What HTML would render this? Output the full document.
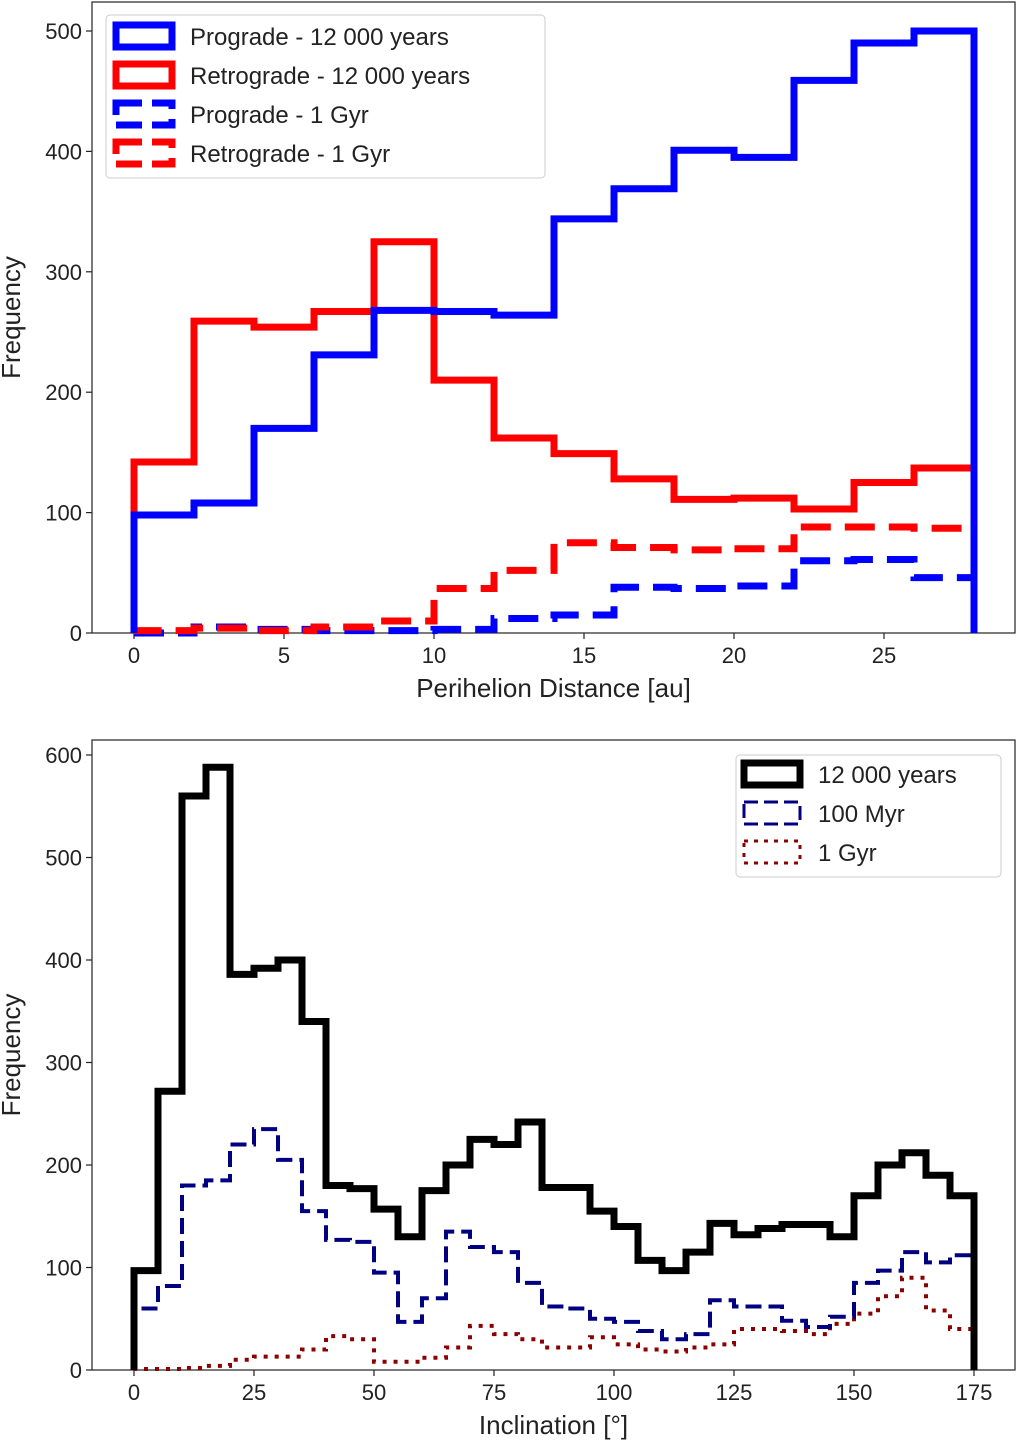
<!DOCTYPE html>
<html><head><meta charset="utf-8"><style>
body{margin:0;background:#fff}
svg text{font-family:"Liberation Sans","DejaVu Sans",sans-serif;fill:#222}
</style></head><body>
<svg id="s" width="1017" height="1442" xmlns="http://www.w3.org/2000/svg"></svg>
<script>
const topEdges=[0,2,4,6,8,10,12,14,16,18,20,22,24,26,28];
const pro12k=[98,108,170,231,268,267,264,344,369,401,395,459,490,500];
const ret12k=[142,259,254,267,325,210,162,149,128,111,112,103,125,137];
const pro1g=[0,5,3,2,2,3,12,15,38,37,39,60,61,46];
const ret1g=[2,4,2,5,10,37,52,75,71,69,70,88,88,87];
const topXTicks=[0,5,10,15,20,25];
const topYTicks=[0,100,200,300,400,500];
const incBinWidth=5;
const inc12k=[97,272,560,588,386,392,400,340,180,177,157,130,175,200,225,220,242,178,178,155,140,107,97,115,143,132,138,142,142,130,170,200,212,190,170];
const inc100m=[60,82,180,185,220,235,205,155,127,125,95,47,70,135,120,115,85,62,60,50,47,38,30,35,68,62,62,48,42,52,85,97,115,105,112];
const inc1g=[1,1,2,4,10,13,13,20,33,30,8,8,12,22,43,35,30,22,22,32,25,20,18,22,25,40,40,38,35,45,55,72,90,58,40];
const botXTicks=[0,25,50,75,100,125,150,175];
const botYTicks=[0,100,200,300,400,500,600];

const S=document.getElementById('s');const NS='http://www.w3.org/2000/svg';
function mk(t,a,p){const e=document.createElementNS(NS,t);for(const k in a)e.setAttribute(k,a[k]);(p||S).appendChild(e);return e;}

function axes(box,xs,ys,xt,yt,xlabel,name){
  const g=mk('g',{});
  
  
  const fr=mk('rect',{x:box.l,y:box.t,width:box.r-box.l,height:box.b-box.t,fill:'none',stroke:'#222','stroke-width':1.2},g);
  
  
  xt.forEach(v=>{const x=xs(v);
    mk('line',{x1:x,x2:x,y1:box.b,y2:box.b+6,stroke:'#222','stroke-width':1.2},g);
    const t=mk('text',{x:x,y:box.b+30,'text-anchor':'middle','font-size':22},g);t.textContent=v;
    
    });
  yt.forEach(v=>{const y=ys(v);
    mk('line',{x1:box.l-6,x2:box.l,y1:y,y2:y,stroke:'#222','stroke-width':1.2},g);
    const t=mk('text',{x:box.l-10,y:y+8,'text-anchor':'end','font-size':22},g);t.textContent=v;
    
    });
  const xl=mk('text',{x:(box.l+box.r)/2,y:box.b+64,'text-anchor':'middle','font-size':26},g);xl.textContent=xlabel;
  
  
  const yl=mk('text',{x:0,y:0,'text-anchor':'middle','font-size':26,transform:`translate(${box.l-72},${(box.t+box.b)/2}) rotate(-90)`},g);yl.textContent='Frequency';
  
  
}
function step(edges,vals,xs,ys,style,name){
  let d=`M${xs(edges[0])},${ys(0)}`;
  vals.forEach((v,i)=>{d+=` L${xs(edges[i])},${ys(v)} L${xs(edges[i+1])},${ys(v)}`;});
  d+=` L${xs(edges[vals.length])},${ys(0)}`;
  const p=mk('path',Object.assign({d:d,fill:'none','stroke-linejoin':'miter'},style));
  
  
}
function legendEntry(x,y,label,style,fs){
  const g=mk('g',{});
  
  
  mk('rect',Object.assign({x:x,y:y-11,width:56,height:22,fill:'none'},style),g);
  const t=mk('text',{x:x+74,y:y+9,'font-size':fs},g);t.textContent=label;
}

// top chart
const tb={l:92,r:1015,t:2,b:633};
const txs=v=>134+v*30, tys=v=>633-v*1.204;
axes(tb,txs,tys,topXTicks,topYTicks,'Perihelion Distance [au]','top-axes');
step(topEdges,pro1g,txs,tys,{stroke:'#0000ff','stroke-width':7,'stroke-dasharray':'30,14'},'prograde-1gyr');
step(topEdges,ret1g,txs,tys,{stroke:'#ff0000','stroke-width':7,'stroke-dasharray':'30,14'},'retrograde-1gyr');
step(topEdges,ret12k,txs,tys,{stroke:'#ff0000','stroke-width':7},'retrograde-12000');
step(topEdges,pro12k,txs,tys,{stroke:'#0000ff','stroke-width':7},'prograde-12000');
const lg1=mk('rect',{x:106,y:15,width:439,height:163,rx:4,fill:'#fff','fill-opacity':0.85,stroke:'#ccc'});


legendEntry(116,36,'Prograde - 12 000 years',{stroke:'#0000ff','stroke-width':7},24);
legendEntry(116,75,'Retrograde - 12 000 years',{stroke:'#ff0000','stroke-width':7},24);
legendEntry(116,114,'Prograde - 1 Gyr',{stroke:'#0000ff','stroke-width':7,'stroke-dasharray':'26,10'},24);
legendEntry(116,153,'Retrograde - 1 Gyr',{stroke:'#ff0000','stroke-width':7,'stroke-dasharray':'26,10'},24);

// bottom chart
const bb={l:92,r:1015,t:740,b:1370};
const bxs=v=>134+v*4.8, bys=v=>1370-v*1.025;
const incEdges=[];for(let i=0;i<=inc12k.length;i++)incEdges.push(i*incBinWidth);
axes(bb,bxs,bys,botXTicks,botYTicks,'Inclination [°]','bottom-axes');
step(incEdges,inc1g,bxs,bys,{stroke:'#8b0000','stroke-width':4,'stroke-dasharray':'4,7'},'inclination-1gyr');
step(incEdges,inc100m,bxs,bys,{stroke:'#000080','stroke-width':4,'stroke-dasharray':'16,7'},'inclination-100myr');
step(incEdges,inc12k,bxs,bys,{stroke:'#000','stroke-width':7},'inclination-12000');
const lg2=mk('rect',{x:736,y:755,width:265,height:122,rx:4,fill:'#fff','fill-opacity':0.85,stroke:'#ccc'});


legendEntry(744,774,'12 000 years',{stroke:'#000','stroke-width':7},24);
legendEntry(744,813,'100 Myr',{stroke:'#000080','stroke-width':3,'stroke-dasharray':'14,6'},24);
legendEntry(744,852,'1 Gyr',{stroke:'#8b0000','stroke-width':3,'stroke-dasharray':'4,6'},24);
</script>
</body></html>
